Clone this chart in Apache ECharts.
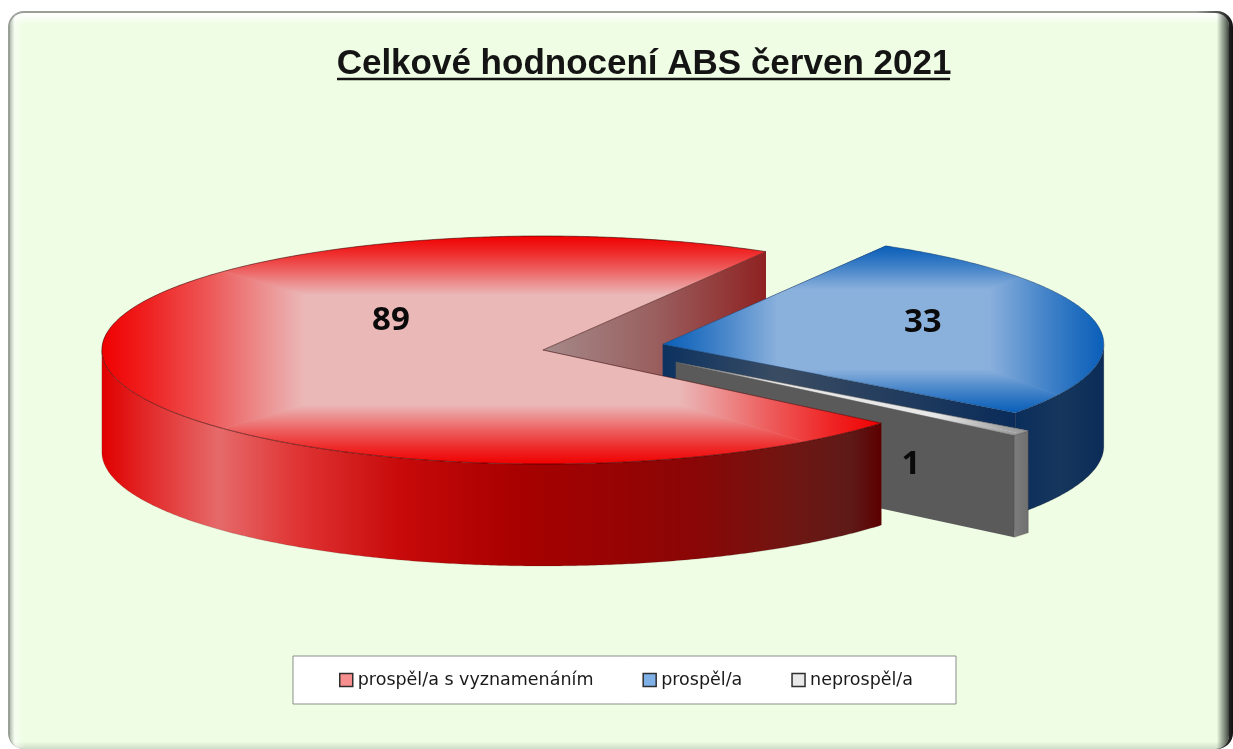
<!DOCTYPE html>
<html><head><meta charset="utf-8">
<style>html,body{margin:0;padding:0;background:#fff}#c{width:1233px;height:749px}</style>
<script src="https://cdn.jsdelivr.net/npm/echarts@6/dist/echarts.min.js"></script>
</head><body><div id="c"></div>
<script>
const titleText = 'Celkové hodnocení ABS červen 2021';
const categories = ['prospěl/a s vyznamenáním', 'prospěl/a', 'neprospěl/a'];
const values = [89, 33, 1];

// projection of the tilted pie
const pieCenter = [603, 347.3], rx = 441, ry = 114, depth = 102, firstAngle = 129.9;
const explode = [61, 61, 93];
const labelOffset = [[-152, -29], [260, -22], [235, 102]];
const layer = [30, 10, 20];
const topBase = ['#ebb8b8', '#8ab0dc', '#e8e8e8'];
const topEdge = ['240,0,0', '10,95,185', '150,150,150'];
const topStroke = ['rgba(50,0,0,.7)', 'rgba(20,50,90,.5)', 'rgba(90,90,90,.6)'];
const wallStops = [
  [[0, '#e00000'], [.15, '#e66a6a'], [.25, '#e03434'], [.38, '#c80a0a'], [.53, '#a80000'], [.76, '#8a0606'], [.88, '#701612'], [.96, '#5e1a18'], [1, '#5c0000']],
  [[0, '#0a2e5c'], [.5, '#16365c'], [1, '#0a2c58']],
  [[0, '#7c7c7c'], [1, '#707070']]
];
const radialStops = [
  [[0, '#a58a8a'], [.5, '#9a5f5f'], [1, '#8f2222']],
  [[0, '#0c3260'], [.33, '#3a4c62'], [1, '#0a2c5a']],
  [[0, '#5a5a5a'], [1, '#5a5a5a']]
];
const legendMarker = ['#f78f8f', '#7fb0e8', '#e8e8e8'];
const bevel = .26;
const bevelAlpha = [[0, 1], [.25, .8], [.55, .5], [.8, .22], [1, 0]];
const total = values.reduce((a, b) => a + b, 0);
const rad = d => d * Math.PI / 180;

function sliceGeometry(i) {
  let before = 0;
  for (let k = 0; k < i; k++) before += values[k];
  const clock0 = firstAngle + before / total * 360;
  const clock1 = clock0 + values[i] / total * 360;
  let a0 = 90 - clock0, a1 = 90 - clock1;      // maths angles, a1 < a0
  while (a0 <= -180) { a0 += 360; a1 += 360; }
  const mid = rad((a0 + a1) / 2);
  const cx = pieCenter[0] + explode[i] * Math.cos(mid);
  const cy = pieCenter[1] - explode[i] * Math.sin(mid) * ry / rx;
  return { a0, a1, cx, cy };
}
function linear(x0, y0, x1, y1, stops) {
  return { type: 'linear', global: true, x: x0, y: y0, x2: x1, y2: y1,
    colorStops: stops.map(s => ({ offset: s[0], color: s[1] })) };
}
function bevelFill(rgb, from, to, horizontal) {
  const stops = bevelAlpha.map(s => [s[0], 'rgba(' + rgb + ',' + s[1] + ')']);
  return horizontal ? linear(from, 0, to, 0, stops) : linear(0, from, 0, to, stops);
}
function renderSlice(params, api) {
  const i = api.value(1);
  const g = sliceGeometry(i);
  const pt = (a, h) => [g.cx + rx * Math.cos(rad(a)), g.cy - ry * Math.sin(rad(a)) + (h || 0)];
  const arc = (from, to, h) => {
    const n = Math.max(2, Math.ceil(Math.abs(from - to) * 2)), out = [];
    for (let k = 0; k <= n; k++) out.push(pt(from + (to - from) * k / n, h));
    return out;
  };
  const center = [g.cx, g.cy];
  const children = [];
  // radial walls: back one first
  [g.a0, g.a1].sort((p, q) => Math.sin(rad(q)) - Math.sin(rad(p))).forEach(a => {
    const e = pt(a), points = [center, e, pt(a, depth), [g.cx, g.cy + depth]];
    const isBack = Math.sin(rad(a)) > 0 && values[i] / total > .5;
    children.push({
      type: 'polygon', z2: isBack ? 1 : layer[i],
      shape: { points },
      style: { fill: linear(Math.min(g.cx, e[0]), 0, Math.max(g.cx, e[0]), 0, radialStops[i]), stroke: 'none' },
      silent: true
    });
  });
  // outer wall: only the front half of the ellipse (-180..0 degrees) faces the viewer
  const from = Math.min(g.a0, 0), to = Math.max(g.a1, -180);
  if (from > to) {
    const outline = arc(from, to, 0).concat(arc(to, from, depth));
    const xs = outline.map(p => p[0]);
    children.push({
      type: 'polygon', z2: layer[i] + 1,
      shape: { points: outline },
      style: { fill: linear(Math.min(...xs), 0, Math.max(...xs), 0, wallStops[i]), stroke: 'rgba(60,30,30,.35)', lineWidth: .5 },
      silent: true
    });
  }
  // top face: pale base with a mitred bevel on its bounding box
  const top = [center].concat(arc(g.a0, g.a1, 0));
  const xs = top.map(p => p[0]), ys = top.map(p => p[1]);
  const x0 = Math.min(...xs), x1 = Math.max(...xs), y0 = Math.min(...ys), y1 = Math.max(...ys);
  const bx = (x1 - x0) * bevel, by = (y1 - y0) * bevel;
  const ix0 = x0 + bx, ix1 = x1 - bx, iy0 = y0 + by, iy1 = y1 - by;
  const A = [x0, y0], B = [x1, y0], C = [x1, y1], D = [x0, y1];
  const a = [ix0, iy0], b = [ix1, iy0], c = [ix1, iy1], d = [ix0, iy1];
  const sides = [
    { clip: [A, B, b, a], fill: bevelFill(topEdge[i], y0, iy0, false) },
    { clip: [B, C, c, b], fill: bevelFill(topEdge[i], x1, ix1, true) },
    { clip: [C, D, d, c], fill: bevelFill(topEdge[i], y1, iy1, false) },
    { clip: [D, A, a, d], fill: bevelFill(topEdge[i], x0, ix0, true) }
  ];
  children.push({ type: 'polygon', z2: layer[i] + 2, shape: { points: top }, style: { fill: topBase[i] }, silent: true });
  sides.forEach((s, k) => children.push({
    type: 'polygon', z2: layer[i] + 3, silent: true,
    shape: { points: top }, style: { fill: s.fill },
    clipPath: { type: 'polygon', shape: { points: s.clip } }
  }));
  children.push(
    { type: 'polygon', z2: layer[i] + 4, shape: { points: top }, style: { fill: 'none', stroke: topStroke[i], lineWidth: .8 }, silent: true },
    { type: 'text', z2: 50, silent: true,
      style: { x: g.cx + labelOffset[i][0], y: g.cy + labelOffset[i][1], text: String(api.value(0)),
        fill: '#0a0a0a', font: 'bold 33px "Open Sans"', align: 'center', verticalAlign: 'middle' } }
  );
  return { type: 'group', children };
}

const chart = echarts.init(document.getElementById('c'), null, { renderer: 'canvas' });
chart.setOption({
  animation: false,
  backgroundColor: '#ffffff',
  title: {
    text: titleText, left: 639, top: 42, textAlign: 'center',
    textStyle: { fontFamily: '"Liberation Sans"', fontWeight: 'bold', fontSize: 35, color: '#141414' }
  },
  legend: {
    left: 293, top: 656, orient: 'horizontal', selectedMode: false,
    padding: [15, 43, 15, 46], itemGap: 49, itemWidth: 13, itemHeight: 13,
    backgroundColor: '#ffffff', borderColor: '#8a8f88', borderWidth: 1, borderRadius: 0,
    textStyle: { fontFamily: '"DejaVu Sans"', fontSize: 17.5, color: '#1a1a1a' },
    data: categories.map((name, i) => ({
      name, icon: 'rect',
      itemStyle: { color: legendMarker[i], borderColor: '#2e2e2e', borderWidth: 1.5 }
    }))
  },
  graphic: [
    { type: 'rect', z: -10, silent: true, shape: { x: 8, y: 11, width: 1225, height: 738, r: 16 },
      style: { fill: linear(8, 0, 1233, 0, [[0, '#9a9f98'], [.97, '#9a9f98'], [.99, '#444'], [1, '#111']]) } },
    { type: 'rect', z: -9, silent: true, shape: { x: 10, y: 13, width: 1219, height: 736, r: 14 },
      style: { fill: linear(0, 13, 0, 749, [[0, '#ffffff'], [.016, '#eefde3'], [.99, '#eefde3'], [1, '#cfdcc8']]) } },
    { type: 'rect', z: -8, silent: true, shape: { x: 10, y: 13, width: 1219, height: 736, r: 14 },
      style: { fill: linear(10, 0, 1229, 0, [[0, 'rgba(150,160,150,.7)'], [.004, 'rgba(255,255,255,.5)'], [.012, 'rgba(255,255,255,0)'],
        [.99, 'rgba(90,100,90,0)'], [.995, 'rgba(90,100,90,.6)'], [1, 'rgba(50,55,50,.95)']]) } },
    { type: 'line', z: 5, silent: true, shape: { x1: 337, y1: 79, x2: 950, y2: 79 },
      style: { stroke: '#141414', lineWidth: 2.5 } }
  ],
  series: categories.map((name, i) => ({
    type: 'custom', name, coordinateSystem: 'none', silent: true,
    renderItem: renderSlice,
    data: [[values[i], i]]
  }))
});
</script></body></html>
